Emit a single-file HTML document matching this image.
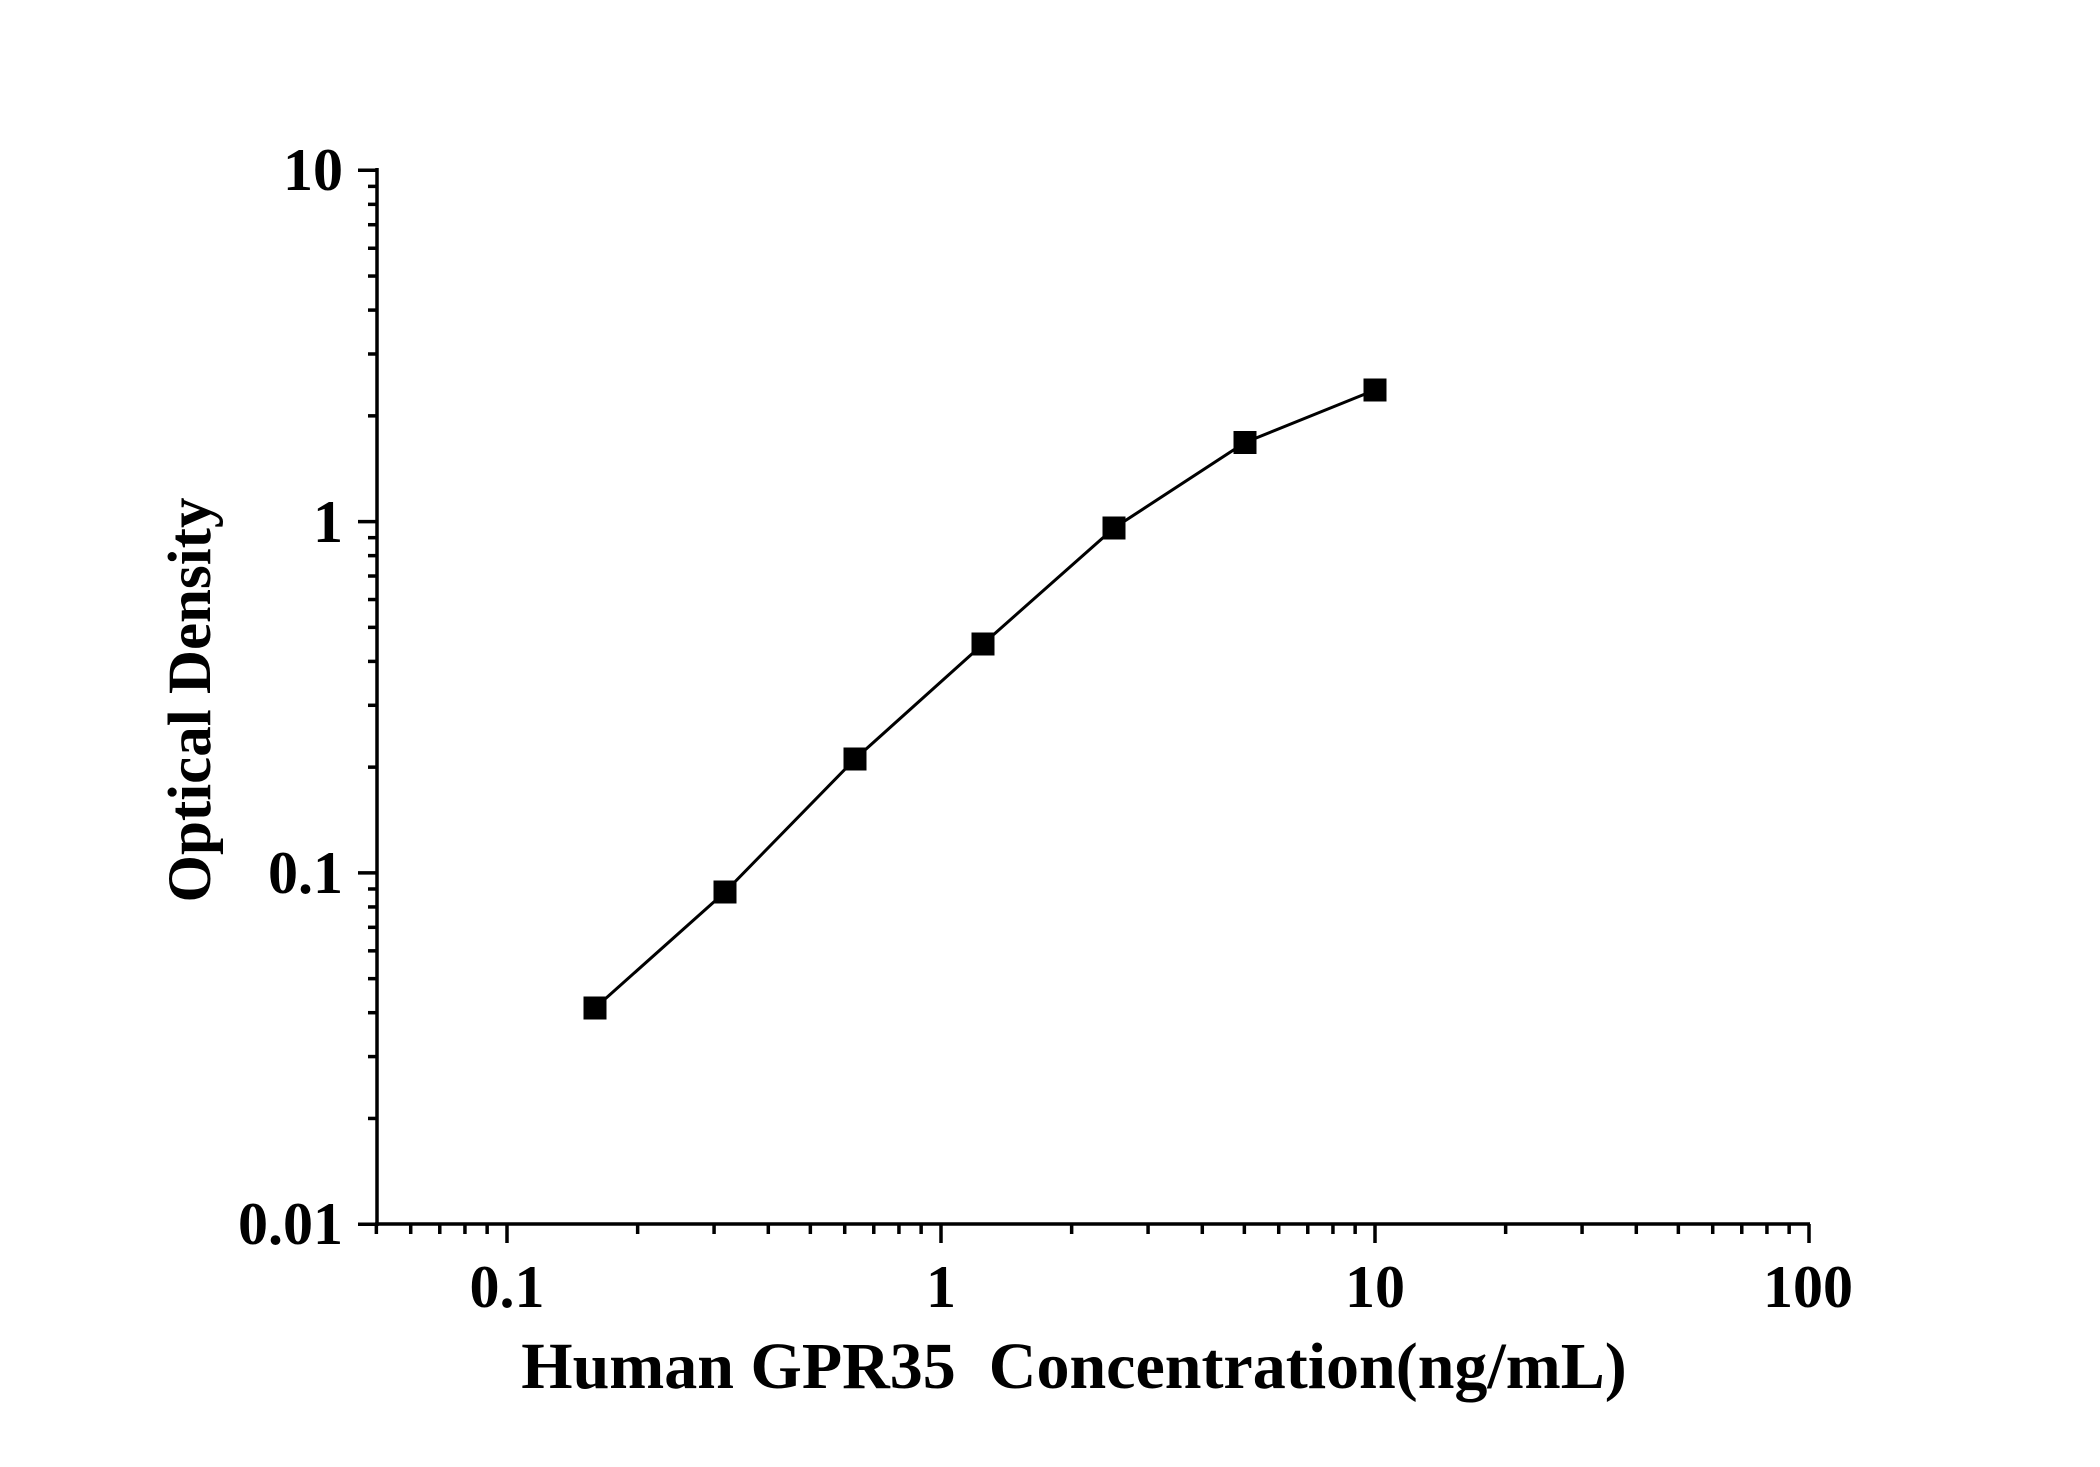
<!DOCTYPE html>
<html><head><meta charset="utf-8"><style>
html,body{margin:0;padding:0;background:#fff;}
svg{display:block}
text{font-family:"Liberation Serif",serif;font-weight:bold;fill:#000;white-space:pre}
</style></head><body>
<svg id="s" width="2100" height="1467" viewBox="0 0 2100 1467" xmlns="http://www.w3.org/2000/svg">
<rect width="2100" height="1467" fill="#fff"/>
<g id="ax" stroke="#000" stroke-width="3.5" fill="none">
<line x1="377" y1="168" x2="377" y2="1226"/>
<line x1="375" y1="1224" x2="1810" y2="1224"/>
</g>
<g font-size="60" text-anchor="end">
<text x="343" y="190">10</text>
<text x="343" y="542">1</text>
<text x="343" y="893">0.1</text>
<text x="343" y="1244">0.01</text>
</g>
<g font-size="60" text-anchor="middle">
<text x="507" y="1307">0.1</text>
<text x="941" y="1307">1</text>
<text x="1375" y="1307">10</text>
<text x="1808" y="1307">100</text>
</g>
<text x="1074" y="1388" font-size="66" text-anchor="middle">Human GPR35  Concentration(ng/mL)</text>
<text transform="translate(210,700) rotate(-90)" font-size="61" text-anchor="middle">Optical Density</text>
<polyline fill="none" stroke="#000" stroke-width="3" points="595,1008 725,892 855,759 983,644 1114,528 1245,442.5 1375,390"/>
<g fill="#000">
<rect x="583.5" y="996.5" width="23" height="23"/>
<rect x="713.5" y="880.5" width="23" height="23"/>
<rect x="843.5" y="747.5" width="23" height="23"/>
<rect x="971.5" y="632.5" width="23" height="23"/>
<rect x="1102.5" y="516.5" width="23" height="23"/>
<rect x="1233.5" y="431" width="23" height="23"/>
<rect x="1363.5" y="378.5" width="23" height="23"/>
</g>
</svg>
<script>
var g=document.getElementById('ax'),ns="http://www.w3.org/2000/svg";
function L(a,b,c,d){var l=document.createElementNS(ns,'line');l.setAttribute('x1',a);l.setAttribute('y1',b);l.setAttribute('x2',c);l.setAttribute('y2',d);g.appendChild(l);}
for(var e=-2;e<=1;e++){for(var m=1;m<10;m++){var v=e+Math.log10(m);if(v>1.0001)break;var y=521.6-351.3*v;L(377,y,m==1?358:368,y);}}
for(var e=-2;e<=2;e++){for(var m=1;m<10;m++){var v=e+Math.log10(m);var x=941+434*v;if(x<376||x>1809)continue;L(x,1224,x,m==1?1243:1234);}}
</script>
</body></html>
